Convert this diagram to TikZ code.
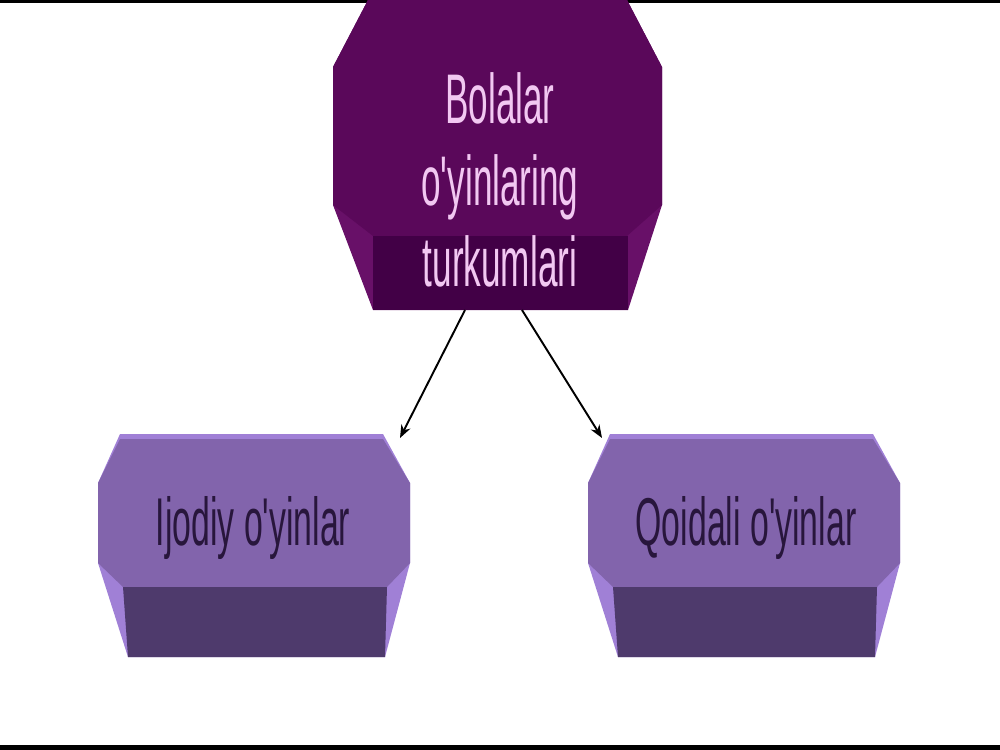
\documentclass[tikz,border=0pt]{standalone}
\usepackage{fontspec}
\usetikzlibrary{arrows.meta}
\newfontfamily\narrowsans[FakeStretch=0.5]{Liberation Sans}
\definecolor{topface}{RGB}{90,8,90}
\definecolor{topside}{RGB}{104,16,104}
\definecolor{topfront}{RGB}{66,0,70}
\definecolor{toptxt}{RGB}{242,200,242}
\definecolor{boxface}{RGB}{130,100,172}
\definecolor{boxside}{RGB}{160,128,214}
\definecolor{boxfront}{RGB}{78,58,108}
\definecolor{boxtxt}{RGB}{40,22,60}
\tikzset{
	toptext/.style={font=\narrowsans\fontsize{40}{46.5}\selectfont, text=toptxt, align=center},
	boxtext/.style={font=\narrowsans\fontsize{38.5}{44}\selectfont, text=boxtxt, anchor=base},
	link/.style={line width=1.1pt, -{Stealth[length=0.26cm, width=0.2cm]}}
}
\begin{document}
\begin{tikzpicture}[x=0.02cm, y=-0.02cm]
		\useasboundingbox (0,0) rectangle (1000,750);
		% Frame bars
		\fill [black] (0,0) rectangle (1000,3);
		\fill [black] (0,745) rectangle (1000,750);
		% Top block
		\fill [topside] (368,0) -- (627,0) -- (662,67) -- (662,205) -- (628,310) -- (373,310) -- (333,205) -- (333,67) -- cycle;
		\fill [topface] (368,0) -- (627,0) -- (662,67) -- (662,205) -- (627,236) -- (373,236) -- (333,205) -- (333,67) -- cycle;
		\fill [topfront] (373,236) rectangle (628,310);
		\node [toptext] (games) at (500,180) {Bolalar\\o'yinlaring\\turkumlari};
		% Lower blocks
		\foreach \dx in {0,490}
		{
			\fill [boxside] (120+\dx,434) -- (383+\dx,434) -- (410+\dx,483) -- (410+\dx,563) -- (385+\dx,657) -- (128+\dx,657) -- (98+\dx,563) -- (98+\dx,483) -- cycle;
			\fill [boxface] (120+\dx,439) -- (383+\dx,439) -- (410+\dx,483) -- (410+\dx,563) -- (387+\dx,587) -- (123+\dx,587) -- (98+\dx,563) -- (98+\dx,483) -- cycle;
			\fill [boxfront] (123+\dx,587) -- (387+\dx,587) -- (385+\dx,657) -- (128+\dx,657) -- cycle;
		}
		\node [boxtext] (ijodiy) at (253,545) {Ijodiy o'yinlar};
		\node [boxtext] (qoidali) at (746,545) {Qoidali o'yinlar};
		% Arrows
		\coordinate (fromL) at (465,310);
		\coordinate (fromR) at (522,310);
		\coordinate (toIjodiy) at (400,438);
		\coordinate (toQoidali) at (602,438);
		\draw [link] (fromL) -- (toIjodiy);
		\draw [link] (fromR) -- (toQoidali);
	\end{tikzpicture}
\end{document}
